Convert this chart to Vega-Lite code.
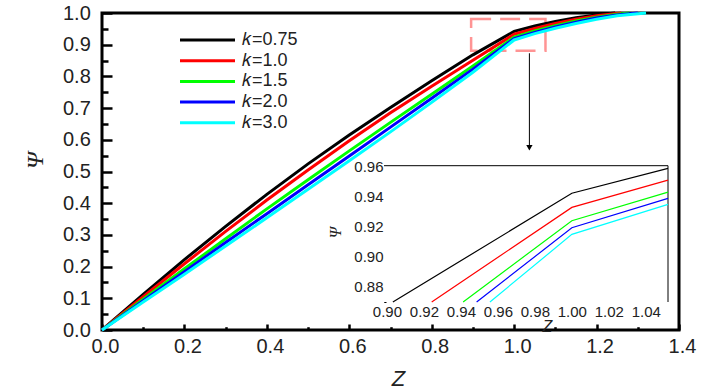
{
  "$schema": "https://vega.github.io/schema/vega-lite/v6.json",
  "width": 577,
  "height": 317,
  "autosize": "none",
  "padding": {"left": 102, "top": 13, "right": 47, "bottom": 60},
  "background": "white",
  "config": {
    "view": {"stroke": "black", "strokeWidth": 3},
    "axis": {
      "grid": false,
      "labelFlush": false,
      "labelOverlap": false,
      "labelFont": "Liberation Sans",
      "titleFont": "Liberation Sans",
      "labelColor": "#222",
      "titleColor": "#222",
      "titleFontWeight": "normal",
      "domainColor": "black",
      "tickColor": "black"
    }
  },
  "datasets": {
    "main": [
      {"Z": 0, "Psi": 0, "k": "𝑘=0.75"},
      {"Z": 0.1, "Psi": 0.112, "k": "𝑘=0.75"},
      {"Z": 0.2, "Psi": 0.222, "k": "𝑘=0.75"},
      {"Z": 0.3, "Psi": 0.327, "k": "𝑘=0.75"},
      {"Z": 0.4, "Psi": 0.428, "k": "𝑘=0.75"},
      {"Z": 0.5, "Psi": 0.524, "k": "𝑘=0.75"},
      {"Z": 0.6, "Psi": 0.615, "k": "𝑘=0.75"},
      {"Z": 0.7, "Psi": 0.702, "k": "𝑘=0.75"},
      {"Z": 0.8, "Psi": 0.786, "k": "𝑘=0.75"},
      {"Z": 0.9, "Psi": 0.868, "k": "𝑘=0.75"},
      {"Z": 1.0, "Psi": 0.942, "k": "𝑘=0.75"},
      {"Z": 1.05, "Psi": 0.959, "k": "𝑘=0.75"},
      {"Z": 1.1, "Psi": 0.973, "k": "𝑘=0.75"},
      {"Z": 1.15, "Psi": 0.985, "k": "𝑘=0.75"},
      {"Z": 1.2, "Psi": 0.994, "k": "𝑘=0.75"},
      {"Z": 1.245, "Psi": 1.0, "k": "𝑘=0.75"},
      {"Z": 0, "Psi": 0, "k": "𝑘=1.0"},
      {"Z": 0.1, "Psi": 0.105, "k": "𝑘=1.0"},
      {"Z": 0.2, "Psi": 0.209, "k": "𝑘=1.0"},
      {"Z": 0.3, "Psi": 0.311, "k": "𝑘=1.0"},
      {"Z": 0.4, "Psi": 0.41, "k": "𝑘=1.0"},
      {"Z": 0.5, "Psi": 0.505, "k": "𝑘=1.0"},
      {"Z": 0.6, "Psi": 0.597, "k": "𝑘=1.0"},
      {"Z": 0.7, "Psi": 0.685, "k": "𝑘=1.0"},
      {"Z": 0.8, "Psi": 0.769, "k": "𝑘=1.0"},
      {"Z": 0.9, "Psi": 0.851, "k": "𝑘=1.0"},
      {"Z": 1.0, "Psi": 0.933, "k": "𝑘=1.0"},
      {"Z": 1.05, "Psi": 0.951, "k": "𝑘=1.0"},
      {"Z": 1.1, "Psi": 0.967, "k": "𝑘=1.0"},
      {"Z": 1.15, "Psi": 0.98, "k": "𝑘=1.0"},
      {"Z": 1.2, "Psi": 0.991, "k": "𝑘=1.0"},
      {"Z": 1.26, "Psi": 1.0, "k": "𝑘=1.0"},
      {"Z": 0, "Psi": 0, "k": "𝑘=1.5"},
      {"Z": 0.1, "Psi": 0.097, "k": "𝑘=1.5"},
      {"Z": 0.2, "Psi": 0.193, "k": "𝑘=1.5"},
      {"Z": 0.3, "Psi": 0.288, "k": "𝑘=1.5"},
      {"Z": 0.4, "Psi": 0.382, "k": "𝑘=1.5"},
      {"Z": 0.5, "Psi": 0.474, "k": "𝑘=1.5"},
      {"Z": 0.6, "Psi": 0.565, "k": "𝑘=1.5"},
      {"Z": 0.7, "Psi": 0.655, "k": "𝑘=1.5"},
      {"Z": 0.8, "Psi": 0.744, "k": "𝑘=1.5"},
      {"Z": 0.9, "Psi": 0.833, "k": "𝑘=1.5"},
      {"Z": 1.0, "Psi": 0.924, "k": "𝑘=1.5"},
      {"Z": 1.05, "Psi": 0.943, "k": "𝑘=1.5"},
      {"Z": 1.1, "Psi": 0.96, "k": "𝑘=1.5"},
      {"Z": 1.15, "Psi": 0.975, "k": "𝑘=1.5"},
      {"Z": 1.2, "Psi": 0.987, "k": "𝑘=1.5"},
      {"Z": 1.25, "Psi": 0.996, "k": "𝑘=1.5"},
      {"Z": 1.28, "Psi": 1.0, "k": "𝑘=1.5"},
      {"Z": 0, "Psi": 0, "k": "𝑘=2.0"},
      {"Z": 0.1, "Psi": 0.092, "k": "𝑘=2.0"},
      {"Z": 0.2, "Psi": 0.184, "k": "𝑘=2.0"},
      {"Z": 0.3, "Psi": 0.276, "k": "𝑘=2.0"},
      {"Z": 0.4, "Psi": 0.367, "k": "𝑘=2.0"},
      {"Z": 0.5, "Psi": 0.458, "k": "𝑘=2.0"},
      {"Z": 0.6, "Psi": 0.549, "k": "𝑘=2.0"},
      {"Z": 0.7, "Psi": 0.64, "k": "𝑘=2.0"},
      {"Z": 0.8, "Psi": 0.731, "k": "𝑘=2.0"},
      {"Z": 0.9, "Psi": 0.823, "k": "𝑘=2.0"},
      {"Z": 1.0, "Psi": 0.919, "k": "𝑘=2.0"},
      {"Z": 1.05, "Psi": 0.939, "k": "𝑘=2.0"},
      {"Z": 1.1, "Psi": 0.956, "k": "𝑘=2.0"},
      {"Z": 1.15, "Psi": 0.971, "k": "𝑘=2.0"},
      {"Z": 1.2, "Psi": 0.984, "k": "𝑘=2.0"},
      {"Z": 1.25, "Psi": 0.994, "k": "𝑘=2.0"},
      {"Z": 1.3, "Psi": 1.0, "k": "𝑘=2.0"},
      {"Z": 0, "Psi": 0, "k": "𝑘=3.0"},
      {"Z": 0.1, "Psi": 0.088, "k": "𝑘=3.0"},
      {"Z": 0.2, "Psi": 0.176, "k": "𝑘=3.0"},
      {"Z": 0.3, "Psi": 0.265, "k": "𝑘=3.0"},
      {"Z": 0.4, "Psi": 0.354, "k": "𝑘=3.0"},
      {"Z": 0.5, "Psi": 0.444, "k": "𝑘=3.0"},
      {"Z": 0.6, "Psi": 0.534, "k": "𝑘=3.0"},
      {"Z": 0.7, "Psi": 0.625, "k": "𝑘=3.0"},
      {"Z": 0.8, "Psi": 0.718, "k": "𝑘=3.0"},
      {"Z": 0.9, "Psi": 0.813, "k": "𝑘=3.0"},
      {"Z": 1.0, "Psi": 0.915, "k": "𝑘=3.0"},
      {"Z": 1.05, "Psi": 0.935, "k": "𝑘=3.0"},
      {"Z": 1.1, "Psi": 0.952, "k": "𝑘=3.0"},
      {"Z": 1.15, "Psi": 0.967, "k": "𝑘=3.0"},
      {"Z": 1.2, "Psi": 0.98, "k": "𝑘=3.0"},
      {"Z": 1.25, "Psi": 0.991, "k": "𝑘=3.0"},
      {"Z": 1.32, "Psi": 1.0, "k": "𝑘=3.0"}
    ],
    "inset": [
      {"Z": 0.9032, "Psi": 0.8698, "k": "𝑘=0.75"},
      {"Z": 1.0, "Psi": 0.9423, "k": "𝑘=0.75"},
      {"Z": 1.052, "Psi": 0.9589, "k": "𝑘=0.75"},
      {"Z": 0.9242, "Psi": 0.8698, "k": "𝑘=1.0"},
      {"Z": 1.0, "Psi": 0.9329, "k": "𝑘=1.0"},
      {"Z": 1.052, "Psi": 0.9511, "k": "𝑘=1.0"},
      {"Z": 0.9412, "Psi": 0.8698, "k": "𝑘=1.5"},
      {"Z": 1.0, "Psi": 0.924, "k": "𝑘=1.5"},
      {"Z": 1.052, "Psi": 0.9431, "k": "𝑘=1.5"},
      {"Z": 0.9485, "Psi": 0.8698, "k": "𝑘=2.0"},
      {"Z": 1.0, "Psi": 0.9193, "k": "𝑘=2.0"},
      {"Z": 1.052, "Psi": 0.9389, "k": "𝑘=2.0"},
      {"Z": 0.9557, "Psi": 0.8698, "k": "𝑘=3.0"},
      {"Z": 1.0, "Psi": 0.9149, "k": "𝑘=3.0"},
      {"Z": 1.052, "Psi": 0.9349, "k": "𝑘=3.0"}
    ],
    "box": [{"x1": 0.8956, "x2": 1.076, "y1": 0.881, "y2": 0.981}],
    "arrow": [{"x": 1.037, "top": 0.873, "tip": 0.575}],
    "insetArea": [{"x1": 0.8984, "x2": 1.052, "y1": 0.8698, "y2": 0.9607}],
    "insetFrame": [
      {"x1": 0.8984, "x2": 1.052, "y1": 0.9607, "y2": 0.9607},
      {"x1": 1.052, "x2": 1.052, "y1": 0.8698, "y2": 0.9607}
    ]
  },
  "resolve": {
    "scale": {"x": "independent", "y": "independent"},
    "axis": {"x": "independent", "y": "independent"}
  },
  "layer": [
    {
      "data": {"name": "box"},
      "mark": {"type": "rect", "fillOpacity": 0, "stroke": "#ff5a5a", "strokeOpacity": 0.65, "strokeWidth": 2.5, "strokeDash": [20, 9]},
      "encoding": {
        "x": {"field": "x1", "type": "quantitative", "scale": {"domain": [0, 1.4], "nice": false, "zero": false}, "axis": null},
        "x2": {"field": "x2"},
        "y": {"field": "y1", "type": "quantitative", "scale": {"domain": [0, 1], "nice": false, "zero": false}, "axis": null},
        "y2": {"field": "y2"}
      }
    },
    {
      "data": {"name": "main"},
      "mark": {"type": "line", "strokeWidth": 3},
      "encoding": {
        "x": {
          "field": "Z", "type": "quantitative",
          "scale": {"domain": [0, 1.4], "nice": false, "zero": false},
          "axis": {
            "orient": "bottom",
            "values": [0, 0.2, 0.4, 0.6, 0.8, 1.0, 1.2, 1.4],
            "format": ".1f",
            "domain": false,
            "tickSize": -6,
            "tickWidth": 2.5,
            "labelFontSize": 20,
            "labelPadding": 12,
            "labelOffset": 3,
            "title": "Z",
            "titleFontStyle": "italic",
            "titleFontSize": 22,
            "titleX": 296,
            "titleY": 48,
            "titleBaseline": "middle",
            "titleAlign": "center"
          }
        },
        "y": {
          "field": "Psi", "type": "quantitative",
          "scale": {"domain": [0, 1], "nice": false, "zero": false},
          "axis": {
            "orient": "left",
            "values": [0, 0.1, 0.2, 0.3, 0.4, 0.5, 0.6, 0.7, 0.8, 0.9, 1.0],
            "format": ".1f",
            "domain": false,
            "tickSize": -10,
            "tickWidth": 2.5,
            "labelFontSize": 20,
            "labelPadding": 21.7,
            "title": "Ψ",
            "titleFont": "Liberation Serif",
            "titleFontStyle": "italic",
            "titleFontSize": 24,
            "titleX": -67,
            "titleY": 147,
            "titleAngle": -90,
            "titleBaseline": "middle",
            "titleAlign": "center"
          }
        },
        "color": {
          "field": "k", "type": "nominal",
          "scale": {
            "domain": ["𝑘=0.75", "𝑘=1.0", "𝑘=1.5", "𝑘=2.0", "𝑘=3.0"],
            "range": ["#000000", "#ff0000", "#00ff00", "#0000ff", "#00ffff"]
          },
          "legend": {
            "orient": "none",
            "legendX": 76.5,
            "legendY": 17,
            "title": null,
            "padding": 0,
            "symbolType": "stroke",
            "symbolSize": 3025,
            "symbolStrokeWidth": 3,
            "clipHeight": 20,
            "rowPadding": 0.7,
            "labelFont": "Liberation Sans",
            "labelFontSize": 18,
            "labelColor": "#222",
            "labelOffset": 5.5
          }
        }
      }
    },
    {
      "data": {"name": "main"},
      "mark": {"type": "point", "opacity": 0},
      "encoding": {
        "x": {
          "field": "Z", "type": "quantitative",
          "scale": {"domain": [0, 1.4], "nice": false, "zero": false},
          "axis": {"orient": "bottom", "values": [0.1, 0.3, 0.5, 0.7, 0.9, 1.1, 1.3], "labels": false, "domain": false, "tickSize": -3.3, "tickWidth": 2.5, "title": null}
        },
        "y": {
          "field": "Psi", "type": "quantitative",
          "scale": {"domain": [0, 1], "nice": false, "zero": false},
          "axis": {"orient": "left", "values": [0.05, 0.15, 0.25, 0.35, 0.45, 0.55, 0.65, 0.75, 0.85, 0.95], "labels": false, "domain": false, "tickSize": -6, "tickWidth": 2.5, "title": null}
        }
      }
    },
    {
      "data": {"name": "arrow"},
      "mark": {"type": "rule", "color": "black", "strokeWidth": 1},
      "encoding": {
        "x": {"field": "x", "type": "quantitative", "scale": {"domain": [0, 1.4], "nice": false, "zero": false}, "axis": null},
        "y": {"field": "top", "type": "quantitative", "scale": {"domain": [0, 1], "nice": false, "zero": false}, "axis": null},
        "y2": {"field": "tip"}
      }
    },
    {
      "data": {"name": "arrow"},
      "mark": {"type": "point", "shape": "triangle-down", "filled": true, "color": "black", "opacity": 1, "size": 40},
      "encoding": {
        "x": {"field": "x", "type": "quantitative", "scale": {"domain": [0, 1.4], "nice": false, "zero": false}, "axis": null},
        "y": {"field": "tip", "type": "quantitative", "scale": {"domain": [0, 1], "nice": false, "zero": false}, "axis": null}
      }
    },
    {
      "data": {"name": "insetArea"},
      "mark": {"type": "rect", "fill": "white"},
      "encoding": {
        "x": {"field": "x1", "type": "quantitative", "scale": {"domain": [0.8984, 1.052], "range": [282, 566], "nice": false, "zero": false}, "axis": null},
        "x2": {"field": "x2"},
        "y": {
          "field": "y1", "type": "quantitative",
          "scale": {"domain": [0.8698, 0.9607], "range": [289, 152.7], "nice": false, "zero": false},
          "axis": {"orient": "left", "offset": -282, "values": [0.87, 0.89, 0.91, 0.93, 0.95], "labels": false, "domain": false, "tickSize": -2, "tickWidth": 1, "title": null}
        },
        "y2": {"field": "y2"}
      }
    },
    {
      "data": {"name": "insetFrame"},
      "mark": {"type": "rule", "color": "black", "strokeWidth": 1},
      "encoding": {
        "x": {"field": "x1", "type": "quantitative", "scale": {"domain": [0.8984, 1.052], "range": [282, 566], "nice": false, "zero": false}, "axis": null},
        "x2": {"field": "x2"},
        "y": {"field": "y1", "type": "quantitative", "scale": {"domain": [0.8698, 0.9607], "range": [289, 152.7], "nice": false, "zero": false}, "axis": null},
        "y2": {"field": "y2"}
      }
    },
    {
      "data": {"name": "inset"},
      "mark": {"type": "line", "strokeWidth": 1.2},
      "encoding": {
        "x": {
          "field": "Z", "type": "quantitative",
          "scale": {"domain": [0.8984, 1.052], "range": [282, 566], "nice": false, "zero": false},
          "axis": {
            "orient": "bottom",
            "offset": -28,
            "values": [0.9, 0.92, 0.94, 0.96, 0.98, 1.0, 1.02, 1.04],
            "format": ".2f",
            "domain": false,
            "ticks": false,
            "labelFontSize": 15,
            "labelPadding": 2,
            "title": "Z",
            "titleFontStyle": "italic",
            "titleFontSize": 16,
            "titleX": 445,
            "titleY": 24,
            "titleBaseline": "middle",
            "titleAlign": "center"
          }
        },
        "y": {
          "field": "Psi", "type": "quantitative",
          "scale": {"domain": [0.8698, 0.9607], "range": [289, 152.7], "nice": false, "zero": false},
          "axis": {
            "orient": "left",
            "offset": -282,
            "values": [0.88, 0.9, 0.92, 0.94, 0.96],
            "format": ".2f",
            "domain": true,
            "domainWidth": 1,
            "tickSize": -3,
            "tickWidth": 1,
            "labelFontSize": 15,
            "labelPadding": 4,
            "title": "Ψ",
            "titleFont": "Liberation Serif",
            "titleFontStyle": "italic",
            "titleFontSize": 16,
            "titleX": -49,
            "titleY": 219,
            "titleAngle": -90,
            "titleBaseline": "middle",
            "titleAlign": "center"
          }
        },
        "color": {"field": "k", "type": "nominal"}
      }
    }
  ]
}
